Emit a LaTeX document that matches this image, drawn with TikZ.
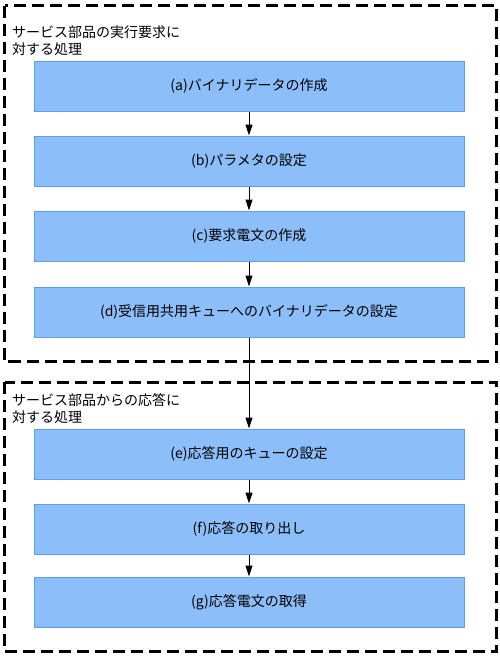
\documentclass[tikz,border=0pt]{standalone}
\usepackage{fontspec}
\setmainfont{Noto Sans CJK JP}
\usetikzlibrary{positioning,arrows.meta}
\definecolor{boxfill}{RGB}{140,191,250}
\definecolor{boxline}{RGB}{92,158,236}
\tikzstyle{procbox}=[rectangle,draw=boxline,fill=boxfill,line width=1pt,minimum width=430pt,minimum height=50pt,inner sep=0pt,font=\fontsize{14}{17}\selectfont]
\tikzstyle{frame}=[line width=3pt,dash pattern=on 12pt off 6pt]
\tikzstyle{grouplabel}=[anchor=west,align=left,inner sep=0pt,font=\fontsize{14}{17}\selectfont]
\tikzstyle{flow}=[-{Triangle[length=11pt,width=7pt]},line width=1pt]
\newcommand{\drawflow}[2][\empty]{
	\foreach \s/\t in {#2}{
		\draw[flow,#1] (\s) -- (\t);
	}
}

\begin{document}
\begin{tikzpicture}[x=1pt,y=-1pt]
\useasboundingbox (0,0) rectangle (500,657);
% request side
\draw[frame] (4.5,5.5) rectangle (496,361.5);
\node[grouplabel] (req) at (12,40.5) {サービス部品の実行要求に\\対する処理};
\node[procbox] (a) at (249,86) {(a)バイナリデータの作成};
\node[procbox,below=24pt of a] (b) {(b)パラメタの設定};
\node[procbox,below=24pt of b] (c) {(c)要求電文の作成};
\node[procbox,below=25pt of c] (d) {(d)受信用共用キューへのバイナリデータの設定};

% response side
\draw[frame] (4.5,382) rectangle (496,651.5);
\node[grouplabel] (res) at (12,408.5) {サービス部品からの応答に\\対する処理};
\node[procbox,below=91pt of d] (e) {(e)応答用のキューの設定};
\node[procbox,below=24pt of e] (f) {(f)応答の取り出し};
\node[procbox,below=22pt of f] (g) {(g)応答電文の取得};

\drawflow{a/b,b/c,c/d,d/e,e/f,f/g}
\end{tikzpicture}
\end{document}
